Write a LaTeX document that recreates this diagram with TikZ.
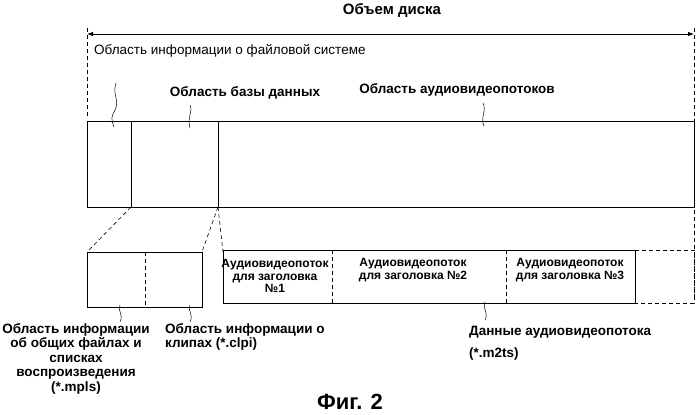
\documentclass[tikz,border=0pt]{standalone}
\usepackage{fontspec}
\setmainfont{Liberation Sans}
\usetikzlibrary{arrows.meta}
\begin{document}
\begin{tikzpicture}[x=1pt,y=-1pt,
  ln/.style={line width=0.8pt},
  dsh/.style={line width=0.6pt,dash pattern=on 4pt off 3pt},
  sq/.style={line width=0.5pt},
  lbl/.style={font=\bfseries\fontsize{13.5}{14}\selectfont,inner sep=0pt},
  sm/.style={font=\bfseries\fontsize{12}{12.5}\selectfont,inner sep=0pt,align=center}]
\useasboundingbox (0,0) rectangle (699,415);
\node[lbl,font=\bfseries\fontsize{15}{16}\selectfont] (vol) at (392,10) {Объем диска};
\coordinate (al) at (87,34); \coordinate (ar) at (694,34);
\draw[ln,{Latex[length=6pt]}-{Latex[length=6pt]}] (al) -- (ar);
\draw[dsh] (87,28) -- (87,118);
\draw[dsh] (694,28) -- (694,300);
\node[font=\fontsize{13.5}{14}\selectfont,anchor=west,inner sep=0pt] (fs) at (94,51) {Область информации о файловой системе};
\node[lbl] (db) at (245,93) {Область базы данных};
\node[lbl] (av) at (457,90) {Область аудиовидеопотоков};
\draw[ln] (87,121) rectangle (694,207);
\draw[ln] (131,121) -- (131,207);
\draw[ln] (218,121) -- (218,207);
\draw[sq] (116,83) .. controls (112,95) and (120,100) .. (115,110) .. controls (111,118) .. (114,127);
\draw[sq] (190,105) .. controls (193,112) and (187,117) .. (190,128);
\draw[sq] (483,103) .. controls (487,110) and (480,118) .. (484,126);
% lower
\draw[dsh] (131,207) -- (87,252);
\draw[dsh] (218,207) -- (202,252);
\draw[dsh] (218,207) -- (223,252);
\draw[ln] (87,252) rectangle (202,307);
\draw[dsh] (145,252) -- (145,307);
\draw[ln] (635,250) -- (223,250) -- (223,303) -- (635,303) -- cycle;
\draw[dsh] (332,250) -- (332,303);
\draw[dsh] (506,250) -- (506,303);
\draw[dsh] (635,250) -- (694,250) -- (694,303) -- (635,303);
\node[sm] (s1) at (275,276) {Аудиовидеопоток\\для заголовка\\№1};
\node[sm] (s2) at (413,270) {Аудиовидеопоток\\для заголовка №2};
\node[sm] (s3) at (570,270) {Аудиовидеопоток\\для заголовка №3};
\draw[sq] (120,305) .. controls (117,311) and (124,314) .. (120,322);
\draw[sq] (190,305) .. controls (187,311) and (194,314) .. (190,322);
\draw[sq] (485,302) .. controls (482,309) and (489,312) .. (485,320);
\node[lbl,align=center,anchor=north,font=\bfseries\fontsize{13.5}{14.5}\selectfont] (l1) at (76,323) {Область информации\\об общих файлах и\\списках\\воспроизведения\\(*.mpls)};
\node[lbl,align=left,anchor=north west,font=\bfseries\fontsize{13.5}{14.5}\selectfont] (l2) at (165,323) {Область информации о\\клипах (*.clpi)};
\node[lbl,align=left,anchor=north west,font=\bfseries\fontsize{13.5}{22}\selectfont] (l3) at (469,326) {Данные аудиовидеопотока\\(*.m2ts)};
\node[font=\bfseries\fontsize{22}{23}\selectfont,inner sep=0pt] (fig) at (350,402) {Фиг. 2};
\end{tikzpicture}
\end{document}
